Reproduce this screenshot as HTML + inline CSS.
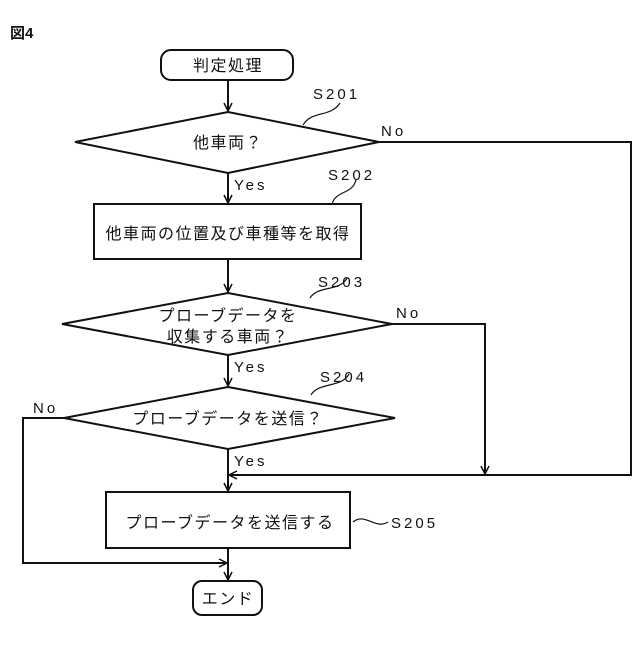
<!DOCTYPE html>
<html><head><meta charset="utf-8"><style>
html,body{margin:0;padding:0;background:#fff;}
svg text{font-family:"Liberation Sans","Noto Sans CJK JP",sans-serif;fill:#111;}
.j{font-size:16px;letter-spacing:1.5px;}
.l{font-size:15px;letter-spacing:3px;}
</style></head><body>
<svg width="640" height="640" viewBox="0 0 640 640" xmlns="http://www.w3.org/2000/svg">
<defs><marker id="a" markerWidth="10" markerHeight="10" refX="9" refY="5" orient="auto" markerUnits="userSpaceOnUse"><path d="M1,1 L9,5 L1,9" fill="none" stroke="#111" stroke-width="1.5"/></marker></defs>
<g stroke="#111" stroke-width="2" fill="none">
<rect x="161" y="50" width="132" height="30" rx="10"/>
<line x1="228" y1="80" x2="228" y2="111" marker-end="url(#a)"/>
<polygon points="228,112 379,142 228,173 75,142"/>
<line x1="228" y1="173" x2="228" y2="203" marker-end="url(#a)"/>
<rect x="94" y="204" width="267" height="55"/>
<line x1="228" y1="259" x2="228" y2="292" marker-end="url(#a)"/>
<polygon points="228,293 392,324 228,355 62,324"/>
<line x1="228" y1="355" x2="228" y2="386" marker-end="url(#a)"/>
<polygon points="228,387 395,418 228,449 64,418"/>
<line x1="228" y1="449" x2="228" y2="491" marker-end="url(#a)"/>
<rect x="106" y="492" width="244" height="56"/>
<line x1="228" y1="548" x2="228" y2="580" marker-end="url(#a)"/>
<rect x="193" y="581" width="69" height="34" rx="9"/>
<polyline points="379,142 631,142 631,475 229,475" marker-end="url(#a)"/>
<polyline points="392,324 485,324 485,474" marker-end="url(#a)"/>
<polyline points="64,418 23,418 23,563 227,563" marker-end="url(#a)"/>
<g stroke-width="1.2">
<path d="M303,125 C312,110 330,118 340,103"/>
<path d="M332,204 C336,190 352,195 356,180"/>
<path d="M310,298 C318,285 340,292 347,278"/>
<path d="M311,395 C318,382 342,388 349,374"/>
<path d="M353,522 C365,512 375,530 388,522"/>
</g>
</g>
<text x="10" y="38" style="font-size:15px;font-weight:bold">図4</text>
<text class="j" x="228" y="71" text-anchor="middle">判定処理</text>
<text class="j" x="228" y="148" text-anchor="middle">他車両？</text>
<text class="j" x="228" y="239" text-anchor="middle">他車両の位置及び車種等を取得</text>
<text class="j" x="228" y="321" text-anchor="middle">プローブデータを</text>
<text class="j" x="228" y="342" text-anchor="middle">収集する車両？</text>
<text class="j" x="228" y="424" text-anchor="middle">プローブデータを送信？</text>
<text class="j" x="230" y="528" text-anchor="middle">プローブデータを送信する</text>
<text class="j" x="228" y="604" text-anchor="middle">エンド</text>
<text class="l" x="313" y="99">S201</text>
<text class="l" x="328" y="180">S202</text>
<text class="l" x="318" y="287">S203</text>
<text class="l" x="320" y="382">S204</text>
<text class="l" x="391" y="528">S205</text>
<text class="l" x="381" y="136">No</text>
<text class="l" x="396" y="318">No</text>
<text class="l" x="33" y="413">No</text>
<text class="l" x="234" y="190">Yes</text>
<text class="l" x="234" y="372">Yes</text>
<text class="l" x="234" y="466">Yes</text>
</svg>
</body></html>
